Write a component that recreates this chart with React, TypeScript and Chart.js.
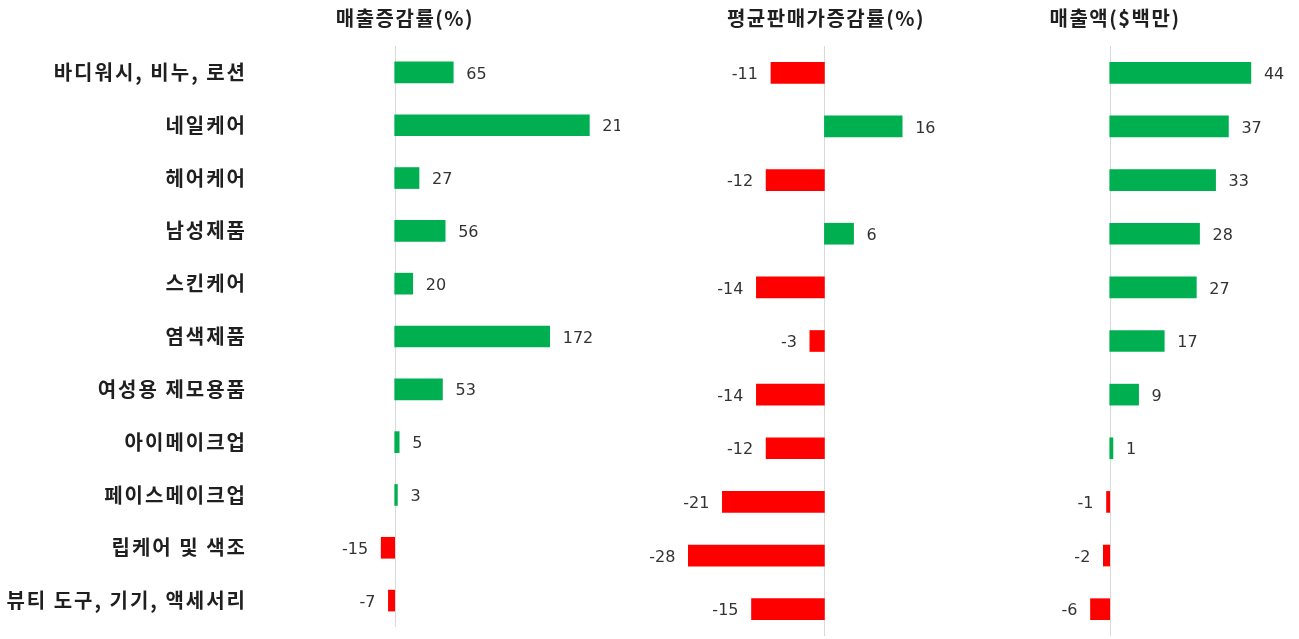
import React, { useEffect, useRef } from 'react';
import { Chart, registerables } from 'chart.js';

Chart.register(...registerables);

const categories = [
  '바디워시, 비누, 로션',
  '네일케어',
  '헤어케어',
  '남성제품',
  '스킨케어',
  '염색제품',
  '여성용 제모용품',
  '아이메이크업',
  '페이스메이크업',
  '립케어 및 색조',
  '뷰티 도구, 기기, 액세서리',
];

const salesGrowth = [65, 216, 27, 56, 20, 172, 53, 5, 3, -15, -7];
const avgPriceGrowth = [-11, 16, -12, 6, -14, -3, -14, -12, -21, -28, -15];
const salesAmount = [44, 37, 33, 28, 27, 17, 9, 1, -1, -2, -6];

const panelTitles = ['매출증감률(%)', '평균판매가증감률(%)', '매출액($백만)'];

const GREEN = '#00B050';
const RED = '#FF0000';
const FONT = '"Noto Sans CJK KR", "Noto Sans", sans-serif';
const VALUE_FONT = '"DejaVu Sans", "Noto Sans", sans-serif';

const spacing = {
  id: 'spacing',
  beforeDraw(chart: any) {
    chart.ctx.letterSpacing = '2px';
  },
  beforeDatasetsDraw(chart: any) {
    chart.ctx.letterSpacing = '0px';
  },
};

const zeroLine = {
  id: 'zeroLine',
  beforeDatasetsDraw(chart: any) {
    const ctx = chart.ctx;
    const x = Math.round(chart.scales.x.getPixelForValue(0)) + 0.5;
    const { top, bottom } = chart.chartArea;
    ctx.save();
    ctx.strokeStyle = '#d9d9d9';
    ctx.lineWidth = 1;
    ctx.beginPath();
    ctx.moveTo(x, top);
    ctx.lineTo(x, bottom);
    ctx.stroke();
    ctx.restore();
  },
};

const valueLabels = {
  id: 'valueLabels',
  afterDatasetsDraw(chart: any) {
    const ctx = chart.ctx;
    const ds = chart.data.datasets[0];
    const meta = chart.getDatasetMeta(0);
    ctx.save();
    ctx.letterSpacing = '0px';
    ctx.font = `16px ${VALUE_FONT}`;
    ctx.fillStyle = '#333333';
    ctx.textBaseline = 'middle';
    meta.data.forEach((bar: any, i: number) => {
      const v = ds.data[i];
      if (v >= 0) {
        ctx.textAlign = 'left';
        ctx.fillText(String(v), bar.x + 13, bar.y + 2);
      } else {
        ctx.textAlign = 'right';
        ctx.fillText(String(v), bar.x - 13, bar.y + 2);
      }
    });
    ctx.restore();
  },
};

type PanelProps = {
  values: number[];
  min: number;
  max: number;
  left: number;
  width: number;
  showLabels: boolean;
};

function Panel({ values, min, max, left, width, showLabels }: PanelProps) {
  const ref = useRef<HTMLCanvasElement | null>(null);
  useEffect(() => {
    if (!ref.current) return;
    const yScale: any = {
      display: showLabels,
      grid: { display: false },
      border: { display: false },
      ticks: {
        autoSkip: false,
        padding: 0,
        color: '#1f1f1f',
        font: { family: FONT, size: 20, weight: 'bold' },
      },
    };
    if (showLabels) {
      yScale.afterFit = (s: any) => {
        s.width = 255;
      };
    }
    const chart = new Chart(ref.current, {
      type: 'bar',
      data: {
        labels: categories,
        datasets: [
          {
            data: values,
            backgroundColor: values.map((v) => (v >= 0 ? GREEN : RED)),
            borderWidth: 0,
            barThickness: 21,
          },
        ],
      },
      options: {
        indexAxis: 'y',
        responsive: false,
        animation: false,
        layout: { padding: { top: 46, bottom: 3, left: 0, right: 0 } },
        plugins: {
          legend: { display: false },
          tooltip: { enabled: false },
          title: { display: false },
        },
        scales: {
          x: { display: false, min, max },
          y: yScale,
        },
      },
      plugins: showLabels ? [spacing, zeroLine, valueLabels] : [zeroLine, valueLabels],
    } as any);
    return () => chart.destroy();
  }, []);
  return (
    <canvas
      ref={ref}
      width={width}
      height={639}
      style={{ position: 'absolute', left, top: 0, width, height: 639 }}
    />
  );
}

const titleCenters = [405, 826, 1115];

export default function App() {
  return (
    <div
      style={{
        position: 'absolute',
        left: 0,
        top: 0,
        width: 1299,
        height: 639,
        background: '#ffffff',
        overflow: 'hidden',
      }}
    >
      <Panel values={salesGrowth} min={-155} max={250} left={0} width={620} showLabels={true} />
      <Panel values={avgPriceGrowth} min={-40} max={42.3} left={630} width={400} showLabels={false} />
      <Panel values={salesAmount} min={-18} max={59} left={1052} width={247} showLabels={false} />
      {panelTitles.map((t, i) => (
        <div
          key={t}
          style={{
            position: 'absolute',
            left: titleCenters[i] - 150,
            top: 6,
            width: 300,
            textAlign: 'center',
            lineHeight: '24px',
            fontFamily: FONT,
            fontWeight: 'bold',
            fontSize: 20,
            letterSpacing: '1.5px',
            color: '#1f1f1f',
          }}
        >
          {t}
        </div>
      ))}
    </div>
  );
}
